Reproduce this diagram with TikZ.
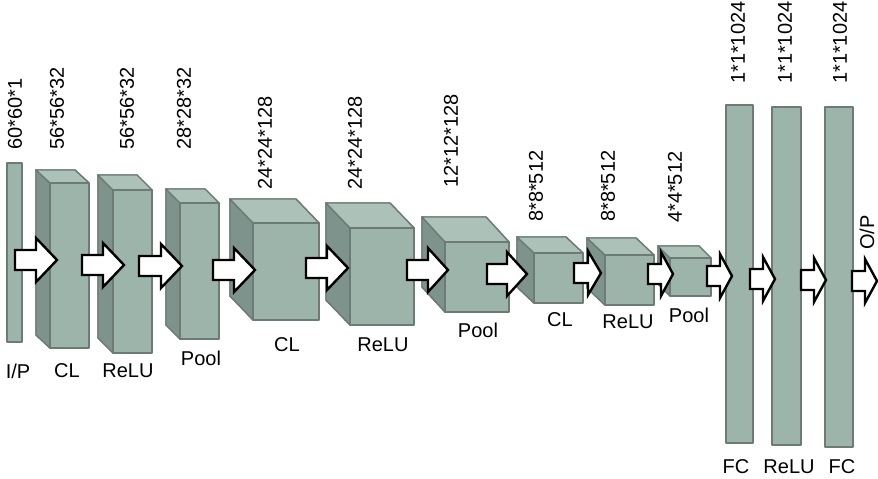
\documentclass[tikz,border=0pt]{standalone}
\usepackage{fontspec}
\setmainfont{Liberation Sans}
\definecolor{frontc}{RGB}{156,180,170}
\definecolor{sidec}{RGB}{126,147,139}
\definecolor{topc}{RGB}{172,193,184}
\definecolor{edgec}{RGB}{108,124,117}
\tikzset{
  face/.style={fill=frontc,draw=edgec,line width=1.4pt,line join=round,inner sep=0pt,outer sep=0pt},
  sideface/.style={fill=sidec,draw=edgec,line width=1.4pt,line join=round},
  topface/.style={fill=topc,draw=edgec,line width=1.4pt,line join=round},
  blockarr/.style={fill=white,draw=black,line width=2.4pt,line join=miter,miter limit=10},
  dimlbl/.style={rotate=90,anchor=west,inner sep=0pt,font=\fontsize{20}{24}\selectfont},
  lyrlbl/.style={inner sep=0pt,font=\fontsize{20}{24}\selectfont},
  pics/barrow/.style n args={2}{code={
    \draw[blockarr] (0,-10) -- ({#1-#2},-10) -- ({#1-#2},-22) -- (#1,0)
      -- ({#1-#2},22) -- ({#1-#2},10) -- (0,10) -- cycle;
  }}
}
% #1 name, #2 x1, #3 y1, #4 x2, #5 y2, #6 dx, #7 dy
\newcommand\mycuboid[7]{%
  \fill[sideface] (#2,#3) -- ({#2-#6},{#3-#7}) -- ({#2-#6},{#5-#7}) -- (#2,#5) -- cycle;
  \fill[topface] (#2,#3) -- ({#2-#6},{#3-#7}) -- ({#4-#6},{#3-#7}) -- (#4,#3) -- cycle;
  \draw[sideface] (#2,#3) -- ({#2-#6},{#3-#7}) -- ({#2-#6},{#5-#7}) -- (#2,#5) -- cycle;
  \draw[topface] (#2,#3) -- ({#2-#6},{#3-#7}) -- ({#4-#6},{#3-#7}) -- (#4,#3) -- cycle;
  \node[face,anchor=north west,minimum width={#4pt-#2pt},minimum height={#5pt-#3pt}] (#1) at (#2,#3) {};
}
\newcommand\myslab[5]{%
  \node[face,anchor=north west,minimum width={#4pt-#2pt},minimum height={#5pt-#3pt}] (#1) at (#2,#3) {};
}
\begin{document}
\begin{tikzpicture}[x=1pt,y=-1pt]
\useasboundingbox (0,0) rectangle (878,479);
\fill[white] (0,0) rectangle (878,479);
% layers
\myslab{ip}{7}{163}{22}{342}
\mycuboid{cl1}{50}{183}{89}{348}{14}{13}
\mycuboid{re1}{113}{190}{152}{353}{15}{15}
\mycuboid{po1}{180}{203}{219}{339}{14}{14}
\mycuboid{cl2}{253}{223}{319}{320}{23}{24}
\mycuboid{re2}{350}{228}{414}{325}{24}{25}
\mycuboid{po2}{445}{242}{509}{312}{23}{25}
\mycuboid{cl3}{534}{253}{583}{303}{17}{16}
\mycuboid{re3}{605}{255}{654}{305}{18}{17}
\mycuboid{po3}{670}{258}{711}{296}{12}{12}
\myslab{fc1}{726}{105}{753}{443}
\myslab{re4}{772}{107}{801}{445}
\myslab{fc2}{825}{107}{853}{447}
% block arrows
\pic (a1) at (15,260) {barrow={42}{21}};
\pic (a2) at (82,265) {barrow={42}{21}};
\pic (a3) at (139,266) {barrow={43}{21}};
\pic (a4) at (213,270) {barrow={42}{21}};
\pic (a5) at (306,268) {barrow={42}{21}};
\pic (a6) at (407,270) {barrow={41}{20}};
\pic (a7) at (487,274) {barrow={40}{20}};
\pic (a8) at (574,273) {barrow={27}{13}};
\pic (a9) at (648,274) {barrow={25}{12}};
\pic (a10) at (707,276) {barrow={25}{12}};
\pic (a11) at (750,279) {barrow={25}{12}};
\pic (a12) at (801,280) {barrow={25}{12}};
\pic (a13) at (852,281) {barrow={25}{12}};
% dimension labels
\node[dimlbl] (d1) at (15,150) {60*60*1};
\node[dimlbl] (d2) at (57,150) {56*56*32};
\node[dimlbl] (d3) at (127,150) {56*56*32};
\node[dimlbl] (d4) at (184,150) {28*28*32};
\node[dimlbl] (d5) at (265,190) {24*24*128};
\node[dimlbl] (d6) at (355,190) {24*24*128};
\node[dimlbl] (d7) at (451,188) {12*12*128};
\node[dimlbl] (d8) at (536,222) {8*8*512};
\node[dimlbl] (d9) at (608,222) {8*8*512};
\node[dimlbl] (d10) at (675,223) {4*4*512};
\node[dimlbl] (d11) at (738,84) {1*1*1024};
\node[dimlbl] (d12) at (785,84) {1*1*1024};
\node[dimlbl] (d13) at (840,84) {1*1*1024};
\node[dimlbl] (d14) at (867,250) {O/P};
% layer labels
\node[lyrlbl] (l1) at (18,371) {I/P};
\node[lyrlbl] (l2) at (67,371) {CL};
\node[lyrlbl] (l3) at (128,371) {ReLU};
\node[lyrlbl] (l4) at (201,358) {Pool};
\node[lyrlbl] (l5) at (287,345) {CL};
\node[lyrlbl] (l6) at (383,345) {ReLU};
\node[lyrlbl] (l7) at (478,330) {Pool};
\node[lyrlbl] (l8) at (560,320) {CL};
\node[lyrlbl] (l9) at (628,322) {ReLU};
\node[lyrlbl] (l10) at (689,315) {Pool};
\node[lyrlbl] (l11) at (736,467) {FC};
\node[lyrlbl] (l12) at (789,467) {ReLU};
\node[lyrlbl] (l13) at (842,467) {FC};
\end{tikzpicture}
\end{document}
